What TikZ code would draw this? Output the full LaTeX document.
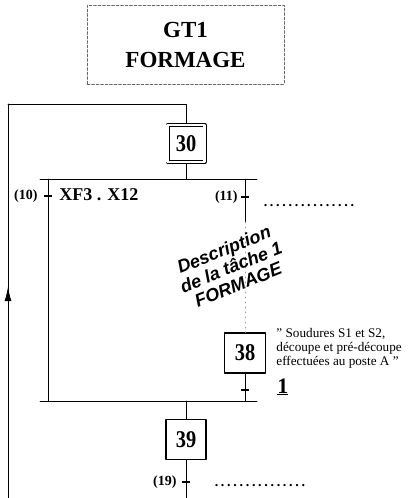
\documentclass[tikz,border=0pt]{standalone}
\usepackage{fontspec}
\setmainfont{Liberation Serif}
\newfontfamily\descfont{Liberation Sans}
\newfontfamily\numfont[FakeStretch=0.85]{Liberation Serif}
\usetikzlibrary{arrows.meta}
\newcommand\dotrow[1]{\makebox[#1]{\leaders\hbox to 6.2pt{\hss.\hss}\hfill}}
\tikzset{
  stepbox/.style={draw,line width=1.1pt,minimum size=40pt,inner sep=0pt,
    font=\numfont\fontsize{24}{24}\selectfont\bfseries},
  initstep/.style={draw,line width=0.9pt,double,double distance=2.2pt,
    minimum size=37pt,inner sep=0pt,outer sep=2pt,
    font=\numfont\fontsize{24}{24}\selectfont\bfseries},
  trans/.style={fill=black,minimum width=8pt,minimum height=1.8pt,inner sep=0pt},
  translabel/.style={inner sep=0pt,font=\fontsize{14}{14}\selectfont\bfseries},
  dotsline/.style={inner sep=0pt,font=\fontsize{14}{14}\selectfont\bfseries},
}
\begin{document}
\begin{tikzpicture}[x=1pt,y=-1pt,line width=0.9pt,line cap=round,line join=round]
  \useasboundingbox (0,0) rectangle (407,498);
  % title frame
  \node[draw=black!60,line width=0.5pt,dash pattern=on 3pt off 1.5pt,
    minimum width=197pt,minimum height=79pt,align=center,
    font=\fontsize{23}{30}\selectfont\bfseries] (gt) at (185.5,44.5) {GT1\\FORMAGE};
  % steps
  \node[initstep] (s30) at (186,143.5) {30};
  \node[stepbox,minimum width=41pt] (s38) at (245,353) {38};
  \node[stepbox] (s39) at (186,439.5) {39};
  % transitions
  \node[trans] (t10) at (48,196) {};
  \node[trans] (t11) at (245,197) {};
  \node[trans] (t1) at (245,390) {};
  \node[trans] (t19) at (186,482) {};
  \coordinate (div) at (186,179);
  \coordinate (conv) at (186,401);
  \coordinate (gap) at (245,222);
  \coordinate (loopbot) at (8,498);
  \coordinate (looptop) at (8,104);
  \coordinate (bot) at (186,498);
  % links
  \draw (looptop) -| (s30.north);
  \draw (loopbot) -- (looptop);
  \draw[-{Latex[length=14pt,width=7pt]}] (8,302) -- (8,287);
  \draw (s30.south) -- (div);
  \draw (40,179) -- (257,179);
  \draw (t10 |- div) -- (t10 |- conv);
  \draw (t11 |- div) -- (gap);
  \draw[black!40,line width=0.6pt,dash pattern=on 1pt off 4pt] (gap) -- (s38.north);
  \draw (s38.south) -- (t1 |- conv);
  \draw (40,401) -- (257,401);
  \draw (conv) -- (s39.north);
  \draw (s39.south) -- (t19 |- bot);
  % labels
  \node[translabel,anchor=east] (l10) at (38,196) {(10)};
  \node[anchor=west,inner sep=0pt,font=\fontsize{18}{18}\selectfont\bfseries] (r10) at (59,195) {XF3 . X12};
  \node[translabel,anchor=east] (l11) at (238,197) {(11)};
  \node[dotsline,anchor=base west] (r11) at (262,206) {\dotrow{98pt}};
  \node[translabel,anchor=east] (l19) at (177,482) {(19)};
  \node[dotsline,anchor=base west] (r19) at (213,486) {\dotrow{93pt}};
  \node[anchor=west,inner sep=0pt,font=\fontsize{22}{22}\selectfont\bfseries] (r1) at (277,387) {\underline{1}};
  \node[anchor=north west,inner sep=0pt,align=left,font=\fontsize{13.2}{14}\selectfont] (cmt) at (276,328)
    {" Soudures S1 et S2,\\découpe et pré-découpe\\effectuées au poste A "};
  \node[rotate=22,align=center,inner sep=0pt,
    font=\descfont\fontsize{18}{19}\selectfont\bfseries\itshape] (desc) at (231,267)
    {Description\\de la tâche 1\\FORMAGE};
\end{tikzpicture}
\end{document}
